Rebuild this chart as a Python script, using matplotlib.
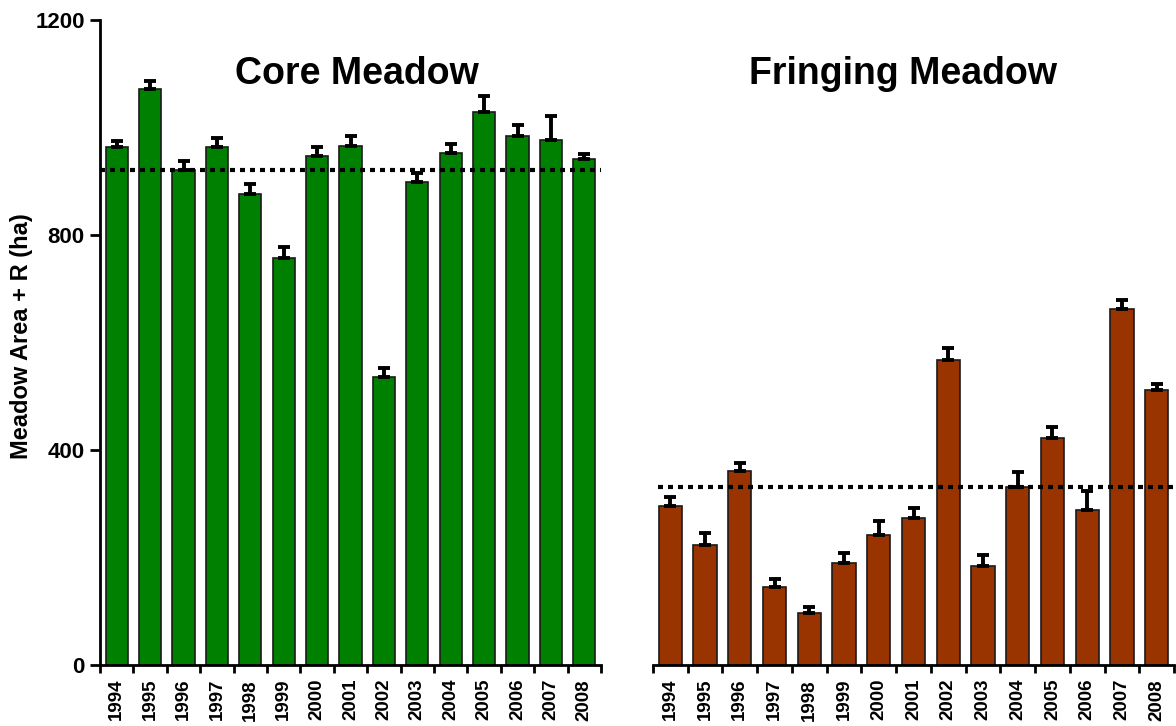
import numpy as np
import matplotlib
matplotlib.use('Agg')
import matplotlib.pyplot as plt

plt.rcParams['font.family'] = ['Liberation Sans', 'DejaVu Sans']
plt.rcParams['font.weight'] = 'bold'

years = ['1994', '1995', '1996', '1997', '1998', '1999', '2000', '2001',
         '2002', '2003', '2004', '2005', '2006', '2007', '2008']
core_mean = [963, 1071, 921, 964, 877, 757, 947, 966, 536, 899, 953, 1028, 985, 976, 941]
core_err = [11, 15, 17, 17, 18, 21, 17, 18, 17, 17, 17, 30, 20, 45, 10]
core_avg = 920
fringe_mean = [295, 223, 361, 145, 96, 190, 242, 274, 567, 185, 332, 422, 288, 662, 512]
fringe_err = [18, 23, 15, 15, 11, 18, 26, 19, 22, 19, 28, 20, 35, 17, 10]
fringe_avg = 332

fig = plt.figure(figsize=(11.76, 7.26), dpi=100)
ax1 = fig.add_axes([100/1176, 61/726, 501/1176, 645/726])
ax2 = fig.add_axes([653/1176, 61/726, 521/1176, 645/726])

ind = np.arange(len(years))  # bar centres
width = 0.67


def panel(ax, means, errs, avg, color, title, tx, xmin):
    ax.bar(ind, means, width, color=color, edgecolor='#1a1a1a', linewidth=1.2,
           yerr=[np.zeros(len(errs)), errs], ecolor='black',
           error_kw=dict(elinewidth=2.8, capsize=4, capthick=2.8))
    # dotted long-term mean
    ax.axhline(avg, color='black', linewidth=3, linestyle=(0, (1.2, 1.2)),
               xmin=xmin, xmax=1.0, zorder=3)
    ax.set_xlim(-0.5, len(years) - 0.5)
    ax.set_ylim(0, 1200)
    # ticks on the category boundaries, labels under the bars
    ax.set_xticks(np.arange(len(years) + 1) - 0.5)
    ax.set_xticklabels([])
    ax.set_xticks(ind, years, minor=True, rotation=90, fontsize=13.5, fontweight='bold')
    ax.tick_params(axis='x', which='major', length=6, width=2, direction='out')
    ax.tick_params(axis='x', which='minor', length=0, pad=10)
    ax.spines['top'].set_visible(False)
    ax.spines['right'].set_visible(False)
    ax.spines['bottom'].set_linewidth(2)
    ax.text(tx, 1100, title, ha='center', va='center', fontsize=27, fontweight='bold')


panel(ax1, core_mean, core_err, core_avg, '#008000', 'Core Meadow', 7.2, 0.0)
panel(ax2, fringe_mean, fringe_err, fringe_avg, '#993300', 'Fringing Meadow', 6.7, 0.01)

ax1.spines['left'].set_linewidth(2)
ax1.set_yticks([0, 400, 800, 1200])
ax1.tick_params(axis='y', length=7, width=2, labelsize=16, pad=4)
for lab in ax1.get_yticklabels():
    lab.set_fontweight('bold')
ax1.set_ylabel('Meadow Area + R (ha)', fontsize=17, fontweight='bold')
ax1.yaxis.set_label_coords(-0.134, 0.51)

ax2.spines['left'].set_visible(False)
ax2.set_yticks([])

fig.savefig('out.png', dpi=100)
